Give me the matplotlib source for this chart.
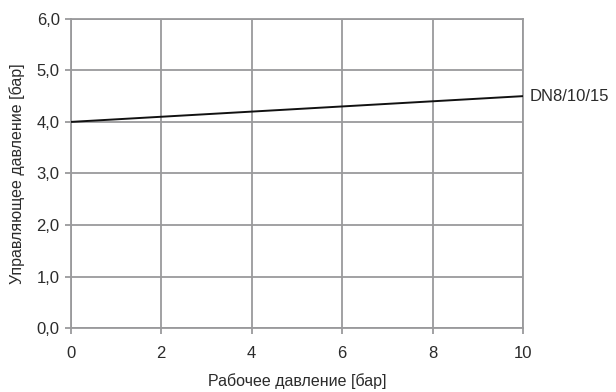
import matplotlib.pyplot as plt
from matplotlib.ticker import FuncFormatter

plt.rcParams['font.family'] = ['Liberation Sans', 'DejaVu Sans']

# Working pressure vs control pressure
work_pressure = [0, 10]
control_pressure = [4.0, 4.5]
series_label = "DN8/10/15"

x_ticks = [0, 2, 4, 6, 8, 10]
y_ticks = [0, 1, 2, 3, 4, 5, 6]

grid_color = "#9a9a9c"
text_color = "#2b2b2b"

fig = plt.figure(figsize=(6.16, 3.92), dpi=100)
ax = fig.add_axes([0.115, 0.163, 0.734, 0.789])

ax.plot(work_pressure, control_pressure, color="#111111", linewidth=1.4, zorder=3)
ax.text(work_pressure[-1] + 0.15, control_pressure[-1], series_label,
        fontsize=12, color=text_color, va="center", ha="left")

ax.set_xlim(0, 10)
ax.set_ylim(0, 6)
ax.set_xticks(x_ticks)
ax.set_yticks(y_ticks)
ax.yaxis.set_major_formatter(FuncFormatter(lambda v, p: f"{v:.1f}".replace(".", ",")))

ax.grid(True, color=grid_color, linewidth=1.3)
for s in ax.spines.values():
    s.set_color(grid_color)
    s.set_linewidth(1.3)
ax.tick_params(axis="both", direction="out", length=4, width=1.3, color=grid_color,
               labelsize=12, labelcolor=text_color)
ax.tick_params(axis="x", pad=9)
ax.tick_params(axis="y", pad=4)

ax.set_xlabel("Рабочее давление [бар]", fontsize=11.5, color=text_color, labelpad=9)
ax.set_ylabel("Управляющее давление [бар]", fontsize=11.5, color=text_color, labelpad=8)

plt.savefig("out.png", dpi=100)
